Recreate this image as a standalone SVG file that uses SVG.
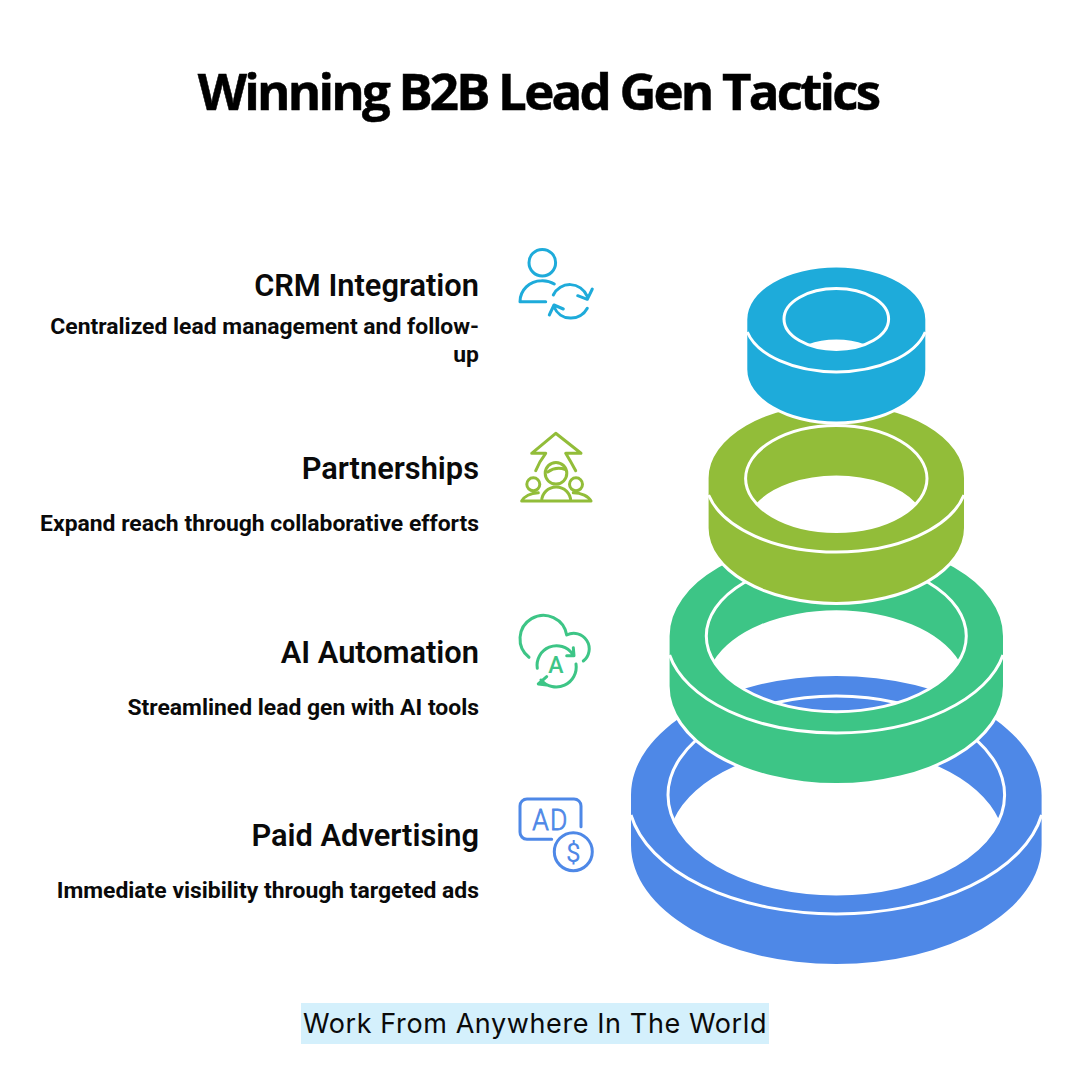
<svg xmlns="http://www.w3.org/2000/svg" width="1080" height="1080" viewBox="0 0 1080 1080">
<style>
.title{font-family:"Open Sans","Liberation Sans",sans-serif;font-weight:700;font-size:51px;letter-spacing:-2.800px;fill:#000;stroke:#000;stroke-width:.5;text-anchor:middle}
.h{font-family:Roboto,"Liberation Sans",sans-serif;font-weight:600;font-size:30.800px;fill:#0a0a0a;text-anchor:end}
.d{font-family:Roboto,"Liberation Sans",sans-serif;font-weight:700;font-size:22.900px;fill:#0a0a0a;text-anchor:end}
.foot{font-family:Inter,"Noto Sans",sans-serif;font-size:27px;font-weight:400;letter-spacing:.6px;fill:#0a0a0a;text-anchor:middle}
.line{fill:none;stroke:#fff;stroke-width:3}
.halo{fill:none;stroke:#fff;stroke-width:6}
.ic{fill:none;stroke-width:3;stroke-linecap:round;stroke-linejoin:round}
.ict{font-family:Roboto,"Liberation Sans",sans-serif}
</style>
<rect width="1080" height="1080" fill="#fff"/>
<text class="title" x="538" y="110">Winning B2B Lead Gen Tactics</text>

<g id="ring-paid">
<path fill="#4E88E7" fill-rule="evenodd" d="M631 795A205.300 119 0 0 1 1041.600 795V845A205.300 119 0 0 1 631 845ZM673.500 820A168.300 99 0 0 1 999.100 820A168.300 99 0 0 1 673.500 820Z"/>
<ellipse class="line" cx="836.300" cy="795" rx="168.300" ry="99"/>
<path class="line" d="M631 815A208.300 119 0 0 0 1041.600 815"/>
</g>
<g id="ring-ai">
<path class="halo" d="M669.600 636A166.700 97 0 0 1 1003 636V686A166.700 97 0 0 1 669.600 686Z"/>
<path fill="#3DC586" fill-rule="evenodd" d="M669.600 636A166.700 97 0 0 1 1003 636V686A166.700 97 0 0 1 669.600 686ZM713.600 661A130 75.700 0 0 1 959 661A130 75.700 0 0 1 713.600 661Z"/>
<ellipse class="line" cx="836.300" cy="636" rx="130" ry="75.700"/>
<path class="line" d="M669.600 655A170 97 0 0 0 1003 655"/>
</g>
<g id="ring-partnerships">
<path class="halo" d="M708.600 478A127.700 74 0 0 1 964 478V528A127.700 74 0 0 1 708.600 528Z"/>
<path fill="#92BD39" fill-rule="evenodd" d="M708.600 478A127.700 74 0 0 1 964 478V528A127.700 74 0 0 1 708.600 528ZM756.300 503.500A90.700 53 0 0 1 916.300 503.500A90.700 53 0 0 1 756.300 503.500Z"/>
<ellipse class="line" cx="836.300" cy="478.500" rx="90.700" ry="53"/>
<path class="line" d="M708.600 495A131.200 74 0 0 0 964 495"/>
</g>
<g id="ring-crm">
<path class="halo" d="M747.300 319.500A89 52 0 0 1 925.300 319.500V369.500A89 52 0 0 1 747.300 369.500Z"/>
<path fill="#1EABDA" fill-rule="evenodd" d="M747.300 319.500A89 52 0 0 1 925.300 319.500V369.500A89 52 0 0 1 747.300 369.500ZM807.600 344.500A52.300 30.500 0 0 1 865 344.500A52.300 30.500 0 0 1 807.600 344.500Z"/>
<ellipse class="line" cx="836.300" cy="319" rx="52.300" ry="30.500"/>
<path class="line" d="M747.300 332A91.500 52 0 0 0 925.300 332"/>
</g>

<g id="node-crm">
<text class="h" x="479" y="296">CRM Integration</text>
<text class="d" x="479" y="334">Centralized lead management and follow-</text>
<text class="d" x="479" y="362">up</text>
<g class="ic" stroke="#1EABDA">
<circle cx="542.300" cy="262.700" r="13.300"/>
<path d="M520 301.700A21.500 21 0 0 1 541.500 280.700A21.500 21 0 0 1 554.300 284M520 301.700H545.700"/>
<path d="M553.300 295A18.500 18.500 0 0 1 587 296M592.300 289L587.300 299.300L577.700 295.700"/>
<path d="M587.300 308.300A18.500 18.500 0 0 1 554 307M563.300 309L554 305L549.300 315"/>
</g>
</g>
<g id="node-partnerships">
<text class="h" x="479" y="479">Partnerships</text>
<text class="d" x="479" y="531">Expand reach through collaborative efforts</text>
<g class="ic" stroke="#92BD39">
<path d="M535.700 470.700Q539 462 545.700 453.300H531.700L555.700 433.300L581 453.300H565.700Q571 462 575.700 470.700"/>
<circle cx="556" cy="473.300" r="10.800"/>
<path d="M547.700 472Q556 466 565.500 469.500"/>
<circle cx="533.300" cy="484.300" r="6.500"/>
<circle cx="576" cy="484.300" r="6.500"/>
<path d="M521.700 501H591M541.700 501A14.500 14 0 0 1 570.700 501M521.700 501A19 12 0 0 1 538.300 492.700M591 501A19 12 0 0 0 573.300 492.700"/>
</g>
</g>
<g id="node-ai">
<text class="h" x="479" y="663">AI Automation</text>
<text class="d" x="479" y="715">Streamlined lead gen with AI tools</text>
<g class="ic" stroke="#3DC586">
<path d="M529 657.300A23.500 23.500 0 1 1 566.700 635A15.500 15.500 0 0 1 583.300 661"/>
<path d="M537.300 668.300A19.500 19.500 0 0 1 572.500 654M573.300 647.700L574 655.700L566.700 655.700"/>
<path d="M576 664A20 20 0 0 1 541 680M546.700 676.700L538.300 684L546.700 685"/>
</g>
<text class="ict" x="556" y="673.300" font-size="23" font-weight="500" fill="#3DC586" text-anchor="middle">A</text>
</g>
<g id="node-paid">
<text class="h" x="479" y="846">Paid Advertising</text>
<text class="d" x="479" y="898">Immediate visibility through targeted ads</text>
<g class="ic" stroke="#4E88E7">
<path d="M581 826.700V806A7 7 0 0 0 574 799H527A7 7 0 0 0 520 806V832A7 7 0 0 0 527 839.300H551.700"/>
<circle cx="573.300" cy="851.700" r="19"/>
</g>
<text class="ict" transform="translate(550.500 830) scale(.88 1)" font-size="30" font-weight="300" letter-spacing="1.500" fill="#4E88E7" stroke="#4E88E7" stroke-width=".8" text-anchor="middle">AD</text>
<text class="ict" x="573.300" y="862" font-size="26" font-weight="400" fill="#4E88E7" text-anchor="middle">$</text>
</g>

<g id="footer">
<rect x="301" y="1003" width="468" height="41" fill="#D4F0FC"/>
<text class="foot" x="535" y="1033">Work From Anywhere In The World</text>
</g>
</svg>
